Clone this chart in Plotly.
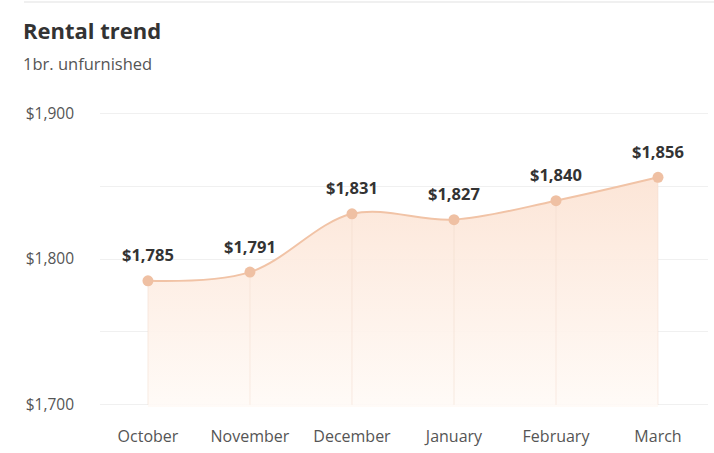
"""Rental trend chart for a one bedroom unfurnished flat."""

import plotly.graph_objects as go

months = ["October", "November", "December", "January", "February", "March"]
rent = [1785, 1791, 1831, 1827, 1840, 1856]
rent_labels = ["$1,785", "$1,791", "$1,831", "$1,827", "$1,840", "$1,856"]
y_ticks = [1700, 1800, 1900]
y_tick_labels = ["$1,700", "$1,800", "$1,900"]

y_min = 1700
y_max = 1900

LINE_COLOR = "#f1c3a6"
TEXT_DARK = "#333333"
TEXT_GREY = "#555555"
GRID = "#f0f0f0"
FONT = "Open Sans"

fig = go.Figure()

# Area under the curve with a soft vertical gradient
fig.add_trace(
    go.Scatter(
        x=months,
        y=rent,
        mode="lines",
        line={"color": LINE_COLOR, "width": 2, "shape": "spline", "smoothing": 1},
        fill="tozeroy",
        fillgradient={
            "type": "vertical",
            "start": y_min,
            "stop": max(rent),
            "colorscale": [[0, "rgba(255,250,246,0.9)"], [1, "rgba(252,228,213,0.95)"]],
        },
        hoverinfo="skip",
        showlegend=False,
    )
)

# Points, with faint drop lines down to the base of the chart
fig.add_trace(
    go.Scatter(
        x=months,
        y=rent,
        mode="markers",
        marker={"size": 11, "color": "#efc0a3"},
        error_y={
            "type": "data",
            "symmetric": False,
            "array": [0] * len(rent),
            "arrayminus": [v - y_min for v in rent],
            "color": "rgba(240,215,200,0.45)",
            "thickness": 1,
            "width": 0,
        },
        showlegend=False,
        hovertemplate="%{x}: $%{y:,}<extra></extra>",
    )
)

annotations = [
    {
        "x": m,
        "y": v,
        "text": f"<b>{lab}</b>",
        "showarrow": False,
        "yshift": 26,
        "font": {"family": FONT, "size": 16.5, "color": TEXT_DARK},
    }
    for m, v, lab in zip(months, rent, rent_labels)
]
annotations += [
    {
        "text": "<b>Rental trend</b>",
        "xref": "paper",
        "yref": "paper",
        "x": 0,
        "y": 1,
        "xshift": -79,
        "yshift": 81,
        "xanchor": "left",
        "yanchor": "middle",
        "showarrow": False,
        "font": {"family": FONT, "size": 22, "color": TEXT_DARK},
    },
    {
        "text": "1br. unfurnished",
        "xref": "paper",
        "yref": "paper",
        "x": 0,
        "y": 1,
        "xshift": -79,
        "yshift": 48,
        "xanchor": "left",
        "yanchor": "middle",
        "showarrow": False,
        "font": {"family": FONT, "size": 16.5, "color": TEXT_GREY},
    },
]

fig.update_layout(
    width=714,
    height=453,
    margin={"l": 100, "r": 6, "t": 111, "b": 44},
    paper_bgcolor="white",
    plot_bgcolor="white",
    font={"family": FONT, "color": TEXT_GREY},
    annotations=annotations,
    shapes=[
        {
            "type": "line",
            "xref": "paper",
            "yref": "paper",
            "x0": -0.125,
            "x1": 1.01,
            "y0": 1.368,
            "y1": 1.368,
            "line": {"color": GRID, "width": 2},
        }
    ],
    xaxis={
        "range": [-0.47, 5.49],
        "showgrid": False,
        "zeroline": False,
        "showline": False,
        "ticks": "",
        "ticklabelstandoff": 18,
        "tickfont": {"family": FONT, "size": 16, "color": TEXT_GREY},
        "fixedrange": True,
    },
    yaxis={
        "range": [y_min - 1.5, y_max + 1.5],
        "tickvals": y_ticks,
        "ticktext": y_tick_labels,
        "showgrid": True,
        "gridcolor": GRID,
        "gridwidth": 1,
        "zeroline": False,
        "showline": False,
        "ticks": "",
        "ticklabelstandoff": 25,
        "tickfont": {"family": FONT, "size": 15.5, "color": TEXT_GREY},
        "fixedrange": True,
    },
)

# Gridlines every $50, labels only every $100
fig.update_yaxes(
    minor={"dtick": 50, "showgrid": True, "gridcolor": GRID, "gridwidth": 1}
)

fig.write_html(
    "out.html",
    config={"displayModeBar": False},
    post_script="document.body.style.margin = '0';",
)
